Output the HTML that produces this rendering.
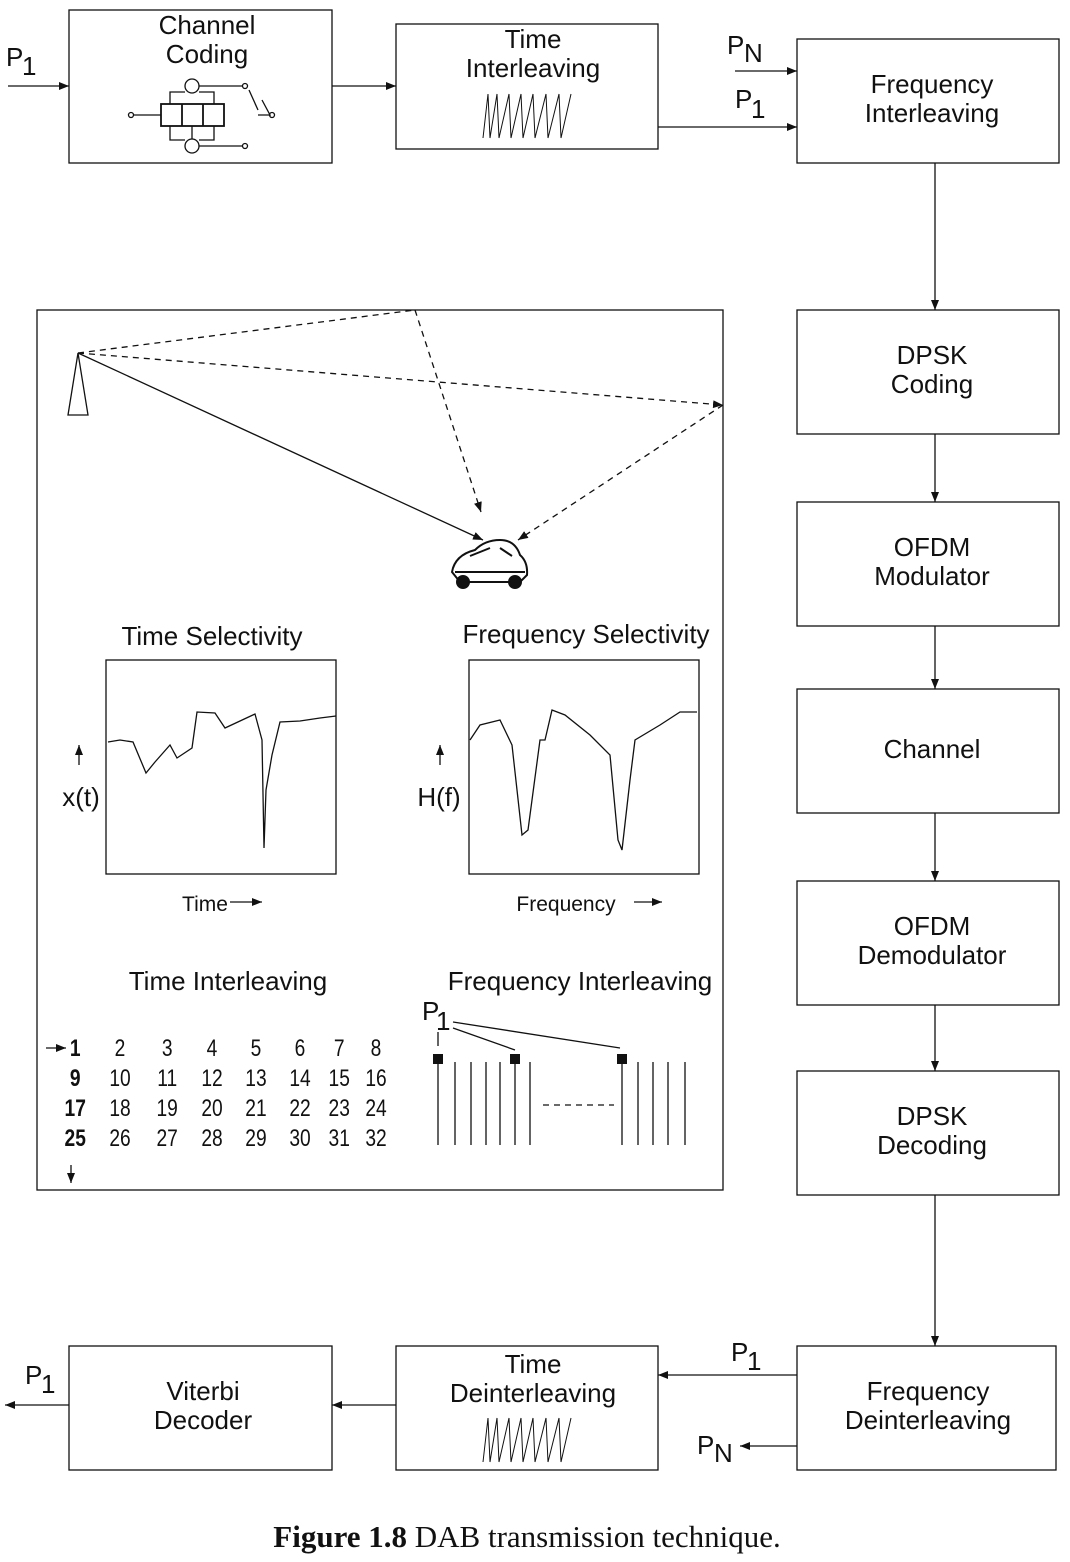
<!DOCTYPE html>
<html><head><meta charset="utf-8"><style>body{margin:0;background:#fff}svg{display:block}text{font-family:"Liberation Sans",sans-serif;fill:#111}</style></head><body>
<svg width="1070" height="1562" viewBox="0 0 1070 1562" xmlns="http://www.w3.org/2000/svg">
<defs><marker id="a" markerWidth="10" markerHeight="8" refX="10" refY="4" orient="auto" markerUnits="userSpaceOnUse"><path d="M0,0 L10,4 L0,8 z" fill="#111"/></marker></defs>
<g fill="none" stroke="#111" stroke-width="1.3">
<rect x="69" y="10" width="263" height="153"/>
<rect x="396" y="24" width="262" height="125"/>
<rect x="797" y="39" width="262" height="124"/>
<rect x="797" y="310" width="262" height="124"/>
<rect x="797" y="502" width="262" height="124"/>
<rect x="797" y="689" width="262" height="124"/>
<rect x="797" y="881" width="262" height="124"/>
<rect x="797" y="1071" width="262" height="124"/>
<rect x="797" y="1346" width="259" height="124"/>
<rect x="396" y="1346" width="262" height="124"/>
<rect x="69" y="1346" width="263" height="124"/>
<rect x="37" y="310" width="686" height="880"/>
<g marker-end="url(#a)">
<path d="M8,86H69"/><path d="M332,86H396"/><path d="M658,127H797"/><path d="M735,71H797"/>
<path d="M935,163V310"/><path d="M935,434V502"/><path d="M935,626V689"/><path d="M935,813V881"/><path d="M935,1005V1071"/><path d="M935,1195V1346"/>
<path d="M797,1375H658"/><path d="M797,1446H740"/><path d="M396,1405H332"/><path d="M69,1405H5"/>
<path d="M78,353L483,540"/>
<path d="M415,310L481,512" stroke-dasharray="6,5"/>
<path d="M78,353L723,405" stroke-dasharray="6,5"/>
<path d="M723,405L518,540" stroke-dasharray="6,5"/>
<path d="M79,765V745"/><path d="M440,765V745"/>
<path d="M230,902H262"/><path d="M634,902H662"/>
<path d="M46,1048H66"/><path d="M71,1165V1183"/>
</g>
<path d="M78,353L415,310" stroke-dasharray="6,5"/>
<path d="M78,353L68,415H88Z"/>
<rect x="161" y="104" width="63" height="22" stroke-width="1.8"/><path d="M182,104V126M203,104V126" stroke-width="1.8"/>
<circle cx="192" cy="86" r="7"/><circle cx="192" cy="146" r="7"/>
<path d="M133,115H161M199,86H243M199,146H243M258,115H270L262,100"/>
<path d="M170,104V92H185M214,104V92H199M170,126V140H185M214,126V140H199M192,126V139"/>
<circle cx="131" cy="115" r="2.5"/><circle cx="245" cy="86" r="2.5"/><circle cx="245" cy="146" r="2.5"/><circle cx="272" cy="115" r="2.5"/>
<path d="M249,90L258,110"/>
<path d="M483,138L488,94L490,138L497,94L499,138L509,94L511,138L521,94L523,138L533,94L535,138L546,94L548,138L559,94L561,138L571,94" stroke-width="1"/>
<path d="M483,1462L488,1418L490,1462L497,1418L499,1462L509,1418L511,1462L521,1418L523,1462L533,1418L535,1462L546,1418L548,1462L559,1418L561,1462L571,1418" stroke-width="1"/>
<rect x="106" y="660" width="230" height="214"/><rect x="469" y="660" width="230" height="214"/>
<path d="M108,742L120,740L133,742L146,773L155,762L170,745L177,758L192,748L197,712L215,713L225,728L255,714L262,740L264,848L266,790L272,755L280,722L300,721L320,718L336,716"/>
<path d="M470,740L480,725L500,720L512,745L522,835L528,830L540,740L545,740L552,710L565,715L590,735L610,755L618,840L622,850L630,780L635,740L660,725L680,712L697,712"/>
<path d="M438,1062V1145M455,1062V1145M471,1062V1145M486,1062V1145M500,1062V1145M515,1062V1145M530,1062V1145M622,1062V1145M638,1062V1145M653,1062V1145M668,1062V1145M685,1062V1145"/>
<path d="M543,1105H614" stroke-dasharray="6,5"/>
<path d="M453,1028L515,1050M453,1022L620,1048M438,1032V1046"/>
</g>
<g fill="#111"><rect x="433" y="1054" width="10" height="10"/><rect x="510" y="1054" width="10" height="10"/><rect x="617" y="1054" width="10" height="10"/></g>
<g fill="none" stroke="#111" stroke-width="2">
<path d="M452,572Q455,555 475,550Q485,540 500,540Q515,540 520,555Q528,562 527,575L520,582H460Z" fill="#fff"/>
<path d="M470,556L490,548M500,548L512,556M455,572H525"/>
<circle cx="463" cy="582" r="6" fill="#111"/><circle cx="515" cy="582" r="6" fill="#111"/>
</g>
<g font-size="26" text-anchor="middle">
<text x="207" y="34">Channel</text><text x="207" y="63">Coding</text>
<text x="533" y="48">Time</text><text x="533" y="77">Interleaving</text>
<text x="932" y="93">Frequency</text><text x="932" y="122">Interleaving</text>
<text x="932" y="364">DPSK</text><text x="932" y="393">Coding</text>
<text x="932" y="556">OFDM</text><text x="932" y="585">Modulator</text>
<text x="932" y="758">Channel</text>
<text x="932" y="935">OFDM</text><text x="932" y="964">Demodulator</text>
<text x="932" y="1125">DPSK</text><text x="932" y="1154">Decoding</text>
<text x="928" y="1400">Frequency</text><text x="928" y="1429">Deinterleaving</text>
<text x="533" y="1373">Time</text><text x="533" y="1402">Deinterleaving</text>
<text x="203" y="1400">Viterbi</text><text x="203" y="1429">Decoder</text>
<text x="212" y="645">Time Selectivity</text><text x="586" y="643">Frequency Selectivity</text>
<text x="228" y="990">Time Interleaving</text><text x="580" y="990">Frequency Interleaving</text>
<text x="81" y="806">x(t)</text><text x="439" y="806">H(f)</text>
<text x="205" y="911" font-size="21">Time</text><text x="566" y="911" font-size="21">Frequency</text>
</g>
<g font-size="26">
<text x="6" y="66">P</text><text x="22" y="75">1</text>
<text x="727" y="54">P</text><text x="744" y="62">N</text>
<text x="735" y="108">P</text><text x="751" y="118">1</text>
<text x="731" y="1361">P</text><text x="747" y="1370">1</text>
<text x="697" y="1454">P</text><text x="714" y="1462">N</text>
<text x="25" y="1384">P</text><text x="41" y="1393">1</text>
<text x="422" y="1020">P</text><text x="436" y="1030">1</text>
</g>
<g font-size="24" text-anchor="middle" transform="scale(0.8,1)">
<g font-weight="bold"><text x="94" y="1056">1</text><text x="94" y="1086">9</text><text x="94" y="1116">17</text><text x="94" y="1146">25</text></g>
<text x="150" y="1056">2</text><text x="209" y="1056">3</text><text x="265" y="1056">4</text><text x="320" y="1056">5</text><text x="375" y="1056">6</text><text x="424" y="1056">7</text><text x="470" y="1056">8</text>
<text x="150" y="1086">10</text><text x="209" y="1086">11</text><text x="265" y="1086">12</text><text x="320" y="1086">13</text><text x="375" y="1086">14</text><text x="424" y="1086">15</text><text x="470" y="1086">16</text>
<text x="150" y="1116">18</text><text x="209" y="1116">19</text><text x="265" y="1116">20</text><text x="320" y="1116">21</text><text x="375" y="1116">22</text><text x="424" y="1116">23</text><text x="470" y="1116">24</text>
<text x="150" y="1146">26</text><text x="209" y="1146">27</text><text x="265" y="1146">28</text><text x="320" y="1146">29</text><text x="375" y="1146">30</text><text x="424" y="1146">31</text><text x="470" y="1146">32</text>
</g>
<text x="527" y="1547" text-anchor="middle" style="font-family:'Liberation Serif',serif" font-size="31"><tspan font-weight="bold">Figure 1.8</tspan> DAB transmission technique.</text>
</svg>
</body></html>
